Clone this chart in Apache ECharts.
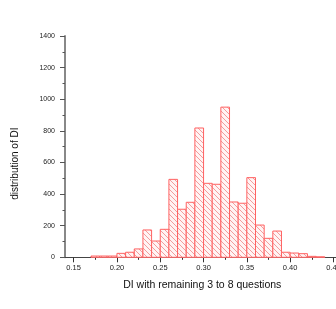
<!DOCTYPE html>
<html>
<head>
<meta charset="utf-8">
<script src="https://cdn.jsdelivr.net/npm/echarts@6/dist/echarts.min.js"></script>
<style>
html,body{margin:0;padding:0;background:#fff;}
#chart{width:336px;height:309px;}
</style>
</head>
<body>
<div id="chart"></div>
<script>
// Histogram bin left edges (bin width 0.01)
var binStarts = [0.17, 0.18, 0.19, 0.20, 0.21, 0.22, 0.23, 0.24, 0.25, 0.26, 0.27, 0.28, 0.29,
                 0.30, 0.31, 0.32, 0.33, 0.34, 0.35, 0.36, 0.37, 0.38, 0.39, 0.40, 0.41, 0.42, 0.43];
var counts = [8, 8, 8, 25, 32, 53, 173, 103, 177, 493, 304, 348, 818,
              468, 462, 950, 350, 342, 504, 204, 120, 166, 32, 27, 23, 6, 3];
var binWidth = 0.01;
var xTickLabels = [0.15, 0.20, 0.25, 0.30, 0.35, 0.40, 0.45];
var xMinorTicks = [0.175, 0.225, 0.275, 0.325, 0.375, 0.425];
var xName = 'DI with remaining 3 to 8 questions';
var yName = 'distribution of DI';

var pc = document.createElement('canvas');
pc.width = 5; pc.height = 5;
var pctx = pc.getContext('2d');
pctx.fillStyle = '#fff4f4';
pctx.fillRect(0, 0, 5, 5);
pctx.fillStyle = '#f49c9c';
for (var i = 0; i < 5; i++) { pctx.fillRect(i, i, 1, 1); }

var data = binStarts.map(function (s, i) { return [s, s + binWidth, counts[i]]; });

var chart = echarts.init(document.getElementById('chart'), null, {renderer: 'canvas'});
chart.setOption({
  animation: false,
  backgroundColor: '#fff',
  grid: {left: 65, width: 274.5, top: 36, height: 221.3, containLabel: false, outerBoundsMode: 'none'},
  xAxis: [{
    type: 'value', min: 0.14, max: 0.457,
    name: xName, nameLocation: 'middle', nameGap: 22,
    nameTextStyle: {fontFamily: 'Liberation Sans, Arial', fontSize: 10.5, color: '#111'},
    axisLine: {show: true, onZero: false, lineStyle: {color: '#444', width: 1.2}},
    axisTick: {show: true, length: 5, customValues: xTickLabels, lineStyle: {color: '#333', width: 1}},
    axisLabel: {customValues: xTickLabels, margin: 7, fontFamily: 'Liberation Sans, Arial', fontSize: 7.5, color: '#222',
      formatter: function (v) { return v.toFixed(2); }},
    splitLine: {show: false}
  }, {
    type: 'value', min: 0.14, max: 0.457, position: 'bottom',
    axisLine: {show: false},
    axisTick: {show: true, length: 2.5, customValues: xMinorTicks, lineStyle: {color: '#333', width: 1}},
    axisLabel: {show: false},
    splitLine: {show: false}
  }],
  yAxis: {
    type: 'value', min: 0, max: 1400, interval: 200,
    name: yName, nameLocation: 'middle', nameGap: 45,
    nameTextStyle: {fontFamily: 'Liberation Sans, Arial', fontSize: 10, color: '#111', padding: [0, 34, 0, 0]},
    axisLine: {show: true, lineStyle: {color: '#888', width: 2}},
    axisTick: {show: true, length: 5, lineStyle: {color: '#555', width: 1}},
    minorTick: {show: true, splitNumber: 2, length: 2.5, lineStyle: {color: '#555', width: 1}},
    axisLabel: {margin: 10, fontFamily: 'Liberation Sans, Arial', fontSize: 7, color: '#222',
      formatter: function (v) { return String(v); }},
    splitLine: {show: false}
  },
  series: [{
    type: 'custom',
    xAxisIndex: 0,
    encode: {x: [0, 1], y: 2},
    data: data,
    renderItem: function (params, api) {
      var p0 = api.coord([api.value(0), api.value(2)]);
      var p1 = api.coord([api.value(1), 0]);
      return {
        type: 'rect',
        shape: {x: p0[0], y: p0[1], width: p1[0] - p0[0], height: p1[1] - p0[1]},
        style: {fill: {image: pc, repeat: 'repeat'}, stroke: '#ff6262', lineWidth: 1}
      };
    }
  }]
});
</script>
</body>
</html>
